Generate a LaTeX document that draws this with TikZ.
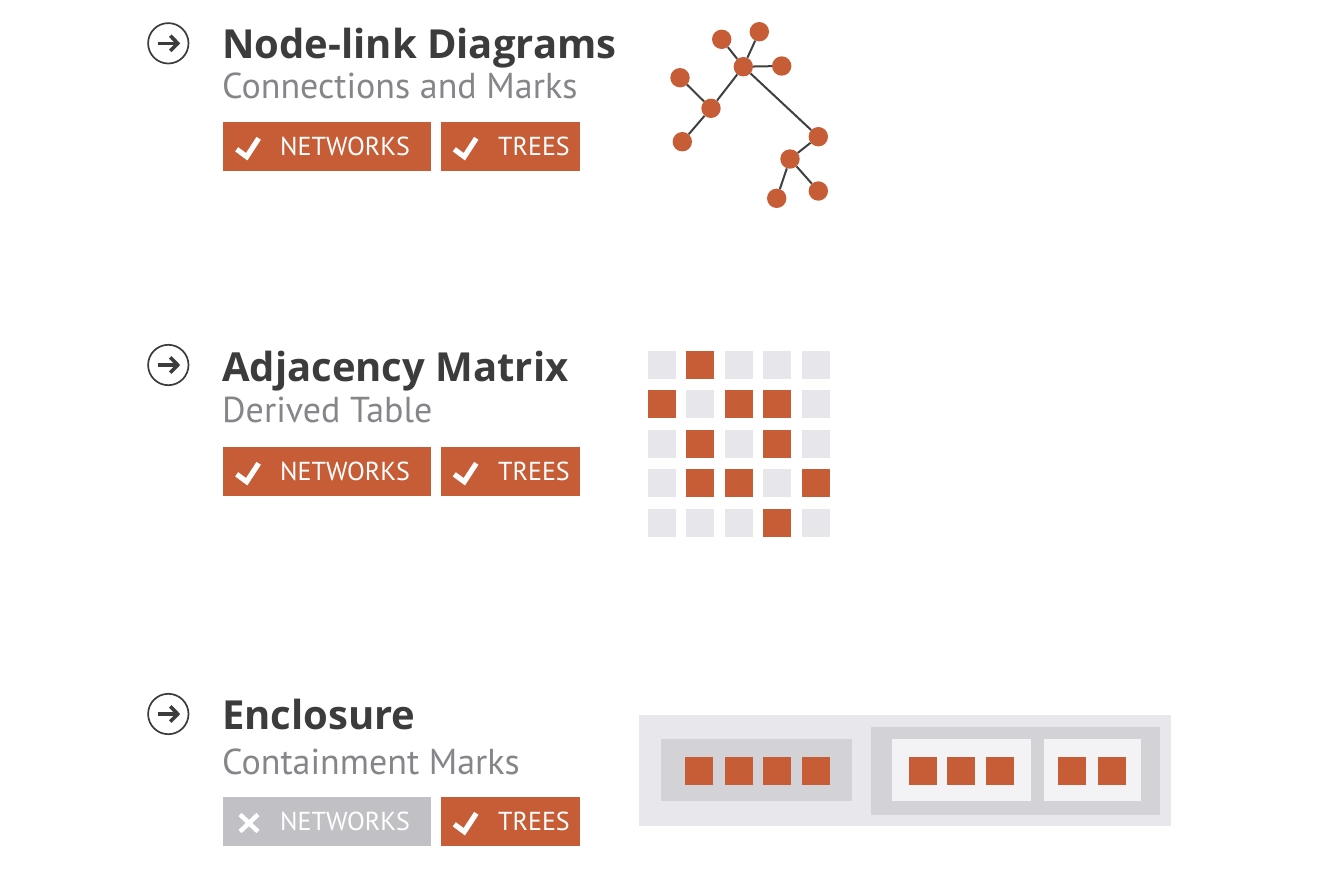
\documentclass[tikz,border=0pt]{standalone}
\usepackage{fontspec}
\setmainfont{PT Sans}
\newfontfamily\headfont{Open Sans}
\definecolor{orng}{RGB}{198,93,55}
\definecolor{ttl}{RGB}{60,60,60}
\definecolor{subt}{RGB}{134,134,138}
\definecolor{gbadge}{RGB}{193,192,197}
\definecolor{mcell}{RGB}{231,230,234}
\definecolor{encA}{RGB}{232,231,235}
\definecolor{encB}{RGB}{211,210,215}
\definecolor{encC}{RGB}{243,243,245}
\definecolor{edgec}{RGB}{64,64,64}
\newcommand{\rowhead}[6]{% #1 name, #2 icon y, #3 title baseline, #4 title, #5 sub baseline, #6 subtitle
  \node[iconring] (#1icon) at (168.3,#2) {};
  \draw[arrowline] (157.5,#2) -- (176,#2);
  \draw[arrowline, line join=miter] (170.3,#2-7.6) -- (177.7,#2) -- (170.3,#2+7.6);
  \node[titletext] (#1title) at (222,#3) {#4};
  \node[subtext] (#1sub) at (222,#5) {#6};
}
\newcommand{\badgepair}[3]{% #1 name, #2 top y, #3 networks ok (1) or not (0)
  \ifnum#3=1
    \node[badge, fill=orng, minimum width=208.3] (#1net) at (222.7,#2) {};
    \draw[checkline] (236.7,#2+27.3) -- (246.7,#2+34.7) -- (258.7,#2+16.3);
  \else
    \node[badge, fill=gbadge, minimum width=208.3] (#1net) at (222.7,#2) {};
    \draw[crossline] (240,#2+17.5) -- (258,#2+34.5);
    \draw[crossline] (240,#2+34.5) -- (258,#2+17.5);
  \fi
  \node[badgetext] (#1nettext) at (280,#2+33.9) {NETWORKS};
  \node[badge, fill=orng, minimum width=139] (#1tree) at (440.3,#2) {};
  \draw[checkline] (454.3,#2+27.3) -- (464.3,#2+34.7) -- (476.3,#2+16.3);
  \node[badgetext] (#1treetext) at (498,#2+33.9) {TREES};
}
\begin{document}
\begin{tikzpicture}[x=1pt,y=-1pt,
  iconring/.style={circle, draw=ttl, line width=1.7pt, minimum size=40.4pt, inner sep=0pt},
  arrowline/.style={draw=ttl, line width=3.6pt},
  titletext/.style={anchor=base west, inner sep=0pt, text=ttl, font=\headfont\fontsize{40}{46}\selectfont\bfseries},
  subtext/.style={anchor=base west, inner sep=0pt, text=subt, font=\fontsize{36}{42}\selectfont},
  badge/.style={rectangle, anchor=north west, minimum height=48.7pt, inner sep=0pt, draw=none},
  badgetext/.style={anchor=base west, inner sep=0pt, text=white, font=\fontsize{26}{30}\selectfont},
  checkline/.style={draw=white, line width=5.2pt, line join=miter},
  crossline/.style={draw=white, line width=4.5pt},
  tnode/.style={circle, fill=orng, minimum size=19.4pt, inner sep=0pt},
  tedge/.style={draw=edgec, line width=2pt},
  sq/.style={rectangle, anchor=north west, minimum size=28pt, inner sep=0pt},
]
\useasboundingbox[fill=white] (0,0) rectangle (1344,884);

% ---------- Row 1: Node-link diagrams
\rowhead{r1}{43.3}{58.3}{Node-link Diagrams}{98}{Connections and Marks}
\badgepair{r1}{122}{1}

\node[tnode] (ta) at (721.7,39.3) {};
\node[tnode] (tb) at (759.3,31.7) {};
\node[tnode] (tc) at (743.3,66.7) {};
\node[tnode] (td) at (781.7,66) {};
\node[tnode] (te) at (680,77.7) {};
\node[tnode] (tf) at (711,108.3) {};
\node[tnode] (tg) at (682.3,141.7) {};
\node[tnode] (th) at (818.3,136.7) {};
\node[tnode] (ti) at (790,159) {};
\node[tnode] (tj) at (776.7,198.3) {};
\node[tnode] (tk) at (818.3,191) {};
\path[tedge] (ta) -- (tc) (tb) -- (tc) (tc) -- (td) (tc) -- (tf) (te) -- (tf)
  (tf) -- (tg) (tc) -- (th) (th) -- (ti) (ti) -- (tj) (ti) -- (tk);

% ---------- Row 2: Adjacency matrix
\rowhead{r2}{365}{381.7}{Adjacency Matrix}{422.5}{Derived Table}
\badgepair{r2}{447}{1}

\foreach \r/\pattern in {0/{0,1,0,0,0},1/{1,0,1,1,0},2/{0,1,0,1,0},3/{0,1,1,0,1},4/{0,0,0,1,0}}{
  \foreach \v [count=\c from 0] in \pattern {
    \ifnum\v=1 \def\cellcol{orng}\else\def\cellcol{mcell}\fi
    \node[sq, fill=\cellcol] (m\r\c) at (647.3+38.6*\c, 350.7+39.5*\r) {};
  }
}

% ---------- Row 3: Enclosure
\rowhead{r3}{714}{729}{Enclosure}{774.3}{Containment Marks}
\badgepair{r3}{797}{0}

\fill[encA] (639.3,715) rectangle (1170.7,826);
\fill[encB] (661,739.3) rectangle (852.3,801.3);
\fill[encB] (871,726.7) rectangle (1160,814.7);
\fill[encC] (891.7,739.3) rectangle (1030.7,801.3);
\fill[encC] (1044,739.3) rectangle (1140.7,801.3);
\foreach \xx [count=\k] in {685,724.3,762.3,801.7,908.7,946.7,985.7,1058,1097.3}{
  \node[sq, fill=orng] (e\k) at (\xx,756.7) {};
}
\end{tikzpicture}
\end{document}
